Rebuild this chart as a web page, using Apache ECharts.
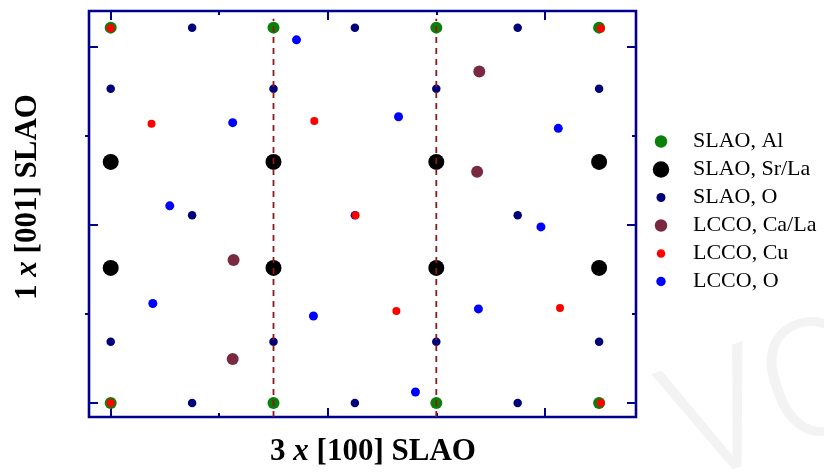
<!DOCTYPE html>
<html>
<head>
<meta charset="utf-8">
<script src="https://cdn.jsdelivr.net/npm/echarts@6/dist/echarts.min.js"></script>
<style>
  html, body { margin: 0; padding: 0; background: #fff; }
  #chart { width: 824px; height: 472px; }
</style>
</head>
<body>
<div id="chart"></div>
<script>
// Atom positions projected on the (100)/(001) plane, in Å: [x, z]
const slaoAl = [[0, 12.64], [3.75, 12.64], [7.5, 12.64], [11.25, 12.64],
                [0, 0], [3.75, 0], [7.5, 0], [11.25, 0]];
const slaoSrLa = [[0, 8.12], [3.75, 8.12], [7.5, 8.12], [11.25, 8.12],
                  [0, 4.55], [3.75, 4.55], [7.5, 4.55], [11.25, 4.55]];
const slaoO = [[1.875, 12.64], [5.625, 12.64], [9.375, 12.64],
               [0, 10.58], [3.75, 10.58], [7.5, 10.58], [11.25, 10.58],
               [1.875, 6.32], [5.625, 6.32], [9.375, 6.32],
               [0, 2.06], [3.75, 2.06], [7.5, 2.06], [11.25, 2.06],
               [1.875, 0], [5.625, 0], [9.375, 0]];
const lccoCaLa = [[8.49, 11.16], [8.44, 7.79], [2.83, 4.82], [2.81, 1.48]];
const lccoCu = [[0, 12.62], [11.29, 12.61], [0.94, 9.40], [4.69, 9.50],
                [5.64, 6.32], [6.58, 3.10], [10.35, 3.20], [0, 0], [11.29, 0]];
const lccoO = [[4.28, 12.23], [2.81, 9.44], [6.63, 9.64], [10.31, 9.25],
               [1.36, 6.64], [9.91, 5.93], [0.97, 3.35], [4.67, 2.93],
               [8.47, 3.17], [7.02, 0.37]];

// Supercell boundaries (dashed)
const boundaryX = [3.75, 7.5];
const boundaryZ = [-0.47, 12.94];

// Axis ranges and ticks (Å)
const xRange = [-0.5, 12.1];
const zRange = [-0.47, 13.2];
const xTicksMajor = [0, 5, 10];
const xTicksMinor = [2.5, 7.5];
const zTicksMajor = [0, 6, 12];
const zTicksMinor = [3, 9];

const seriesNames = ['SLAO, Al', 'SLAO, Sr/La', 'SLAO, O', 'LCCO, Ca/La', 'LCCO, Cu', 'LCCO, O'];
const seriesData = [slaoAl, slaoSrLa, slaoO, lccoCaLa, lccoCu, lccoO];
const seriesColors = ['#0a800a', '#000000', '#00007a', '#7a2a40', '#ff0000', '#0000ff'];
const symbolSizes = [12, 16, 8.5, 12, 8, 9];

const NAVY = '#00008c';
const SERIF = '"Liberation Serif", "Times New Roman", serif';

function tickAxis(position, range, ticks, len, inside) {
  return {
    type: 'value',
    position: position,
    min: range[0],
    max: range[1],
    axisLine: { show: false, onZero: false },
    axisLabel: { show: false },
    splitLine: { show: false },
    axisTick: {
      show: true, inside: inside, length: len, customValues: ticks,
      lineStyle: { color: NAVY, width: 2 }
    }
  };
}

const chart = echarts.init(document.getElementById('chart'), null, { renderer: 'canvas' });

const series = seriesNames.map((name, i) => ({
  type: 'scatter',
  name: name,
  data: seriesData[i],
  symbol: 'circle',
  symbolSize: symbolSizes[i],
  itemStyle: { color: seriesColors[i], opacity: 1 },
  z: 2 + i
}));

boundaryX.forEach((bx) => {
  series.push({
    type: 'line',
    data: boundaryZ.map((z) => [bx, z]),
    symbol: 'none',
    silent: true,
    lineStyle: { color: '#8b1a1a', width: 1.8, type: [6, 5] },
    z: 10
  });
});

// one legend block per entry so each keeps its own marker size;
// markers share a centre column and the labels share a left edge
const legendMarkerX = 661;
const legendTextX = 693;
const rowCenters = [141.5, 169.5, 197.5, 225.5, 253.5, 281.5];
const legends = seriesNames.map((name, i) => {
  const s = symbolSizes[i] + 0.5;
  return {
    data: [name],
    left: legendMarkerX - s / 2,
    top: rowCenters[i] - 11,
    padding: 0,
    icon: 'circle',
    itemWidth: s,
    itemHeight: s,
    selectedMode: false,
    textStyle: {
      fontFamily: SERIF, fontSize: 22, lineHeight: 22, color: '#000',
      padding: [0, 0, 0, legendTextX - (legendMarkerX + s / 2 + 5)]
    }
  };
});

const titleRich = {
  n: { fontFamily: SERIF, fontSize: 31, fontWeight: 'bold', fill: '#000' },
  i: { fontFamily: SERIF, fontSize: 31, fontWeight: 'bold', fontStyle: 'italic', fill: '#000' }
};

chart.setOption({
  animation: false,
  backgroundColor: '#fff',
  grid: {
    left: 89, right: 188, top: 11, bottom: 55,
    show: true, borderColor: NAVY, borderWidth: 2.6, backgroundColor: 'transparent'
  },
  xAxis: [
    tickAxis('bottom', xRange, xTicksMajor, 9, true),
    tickAxis('top', xRange, xTicksMajor, 9, true),
    tickAxis('bottom', xRange, xTicksMinor, 4, true),
    tickAxis('top', xRange, xTicksMinor, 4, true)
  ],
  yAxis: [
    tickAxis('left', zRange, zTicksMajor, 9, true),
    tickAxis('right', zRange, zTicksMajor, 9, true),
    tickAxis('left', zRange, zTicksMinor, 4, false),
    tickAxis('right', zRange, zTicksMinor, 4, true)
  ],
  legend: legends,
  graphic: [
    {
      type: 'text', x: 775, y: 410, rotation: 0.35, silent: true, z: -10,
      style: {
        text: 'VO', fill: '#f3f3f3',
        font: '300 165px Roboto, "DejaVu Sans", sans-serif',
        align: 'center', verticalAlign: 'middle'
      }
    },
    {
      type: 'text', x: 373, y: 452, silent: true,
      style: {
        text: '{n|3 }{i|x}{n| [100] SLAO}', rich: titleRich,
        align: 'center', verticalAlign: 'middle'
      }
    },
    {
      type: 'text', x: 28, y: 197, rotation: Math.PI / 2, silent: true,
      style: {
        text: '{n|1 }{i|x}{n| [001] SLAO}', rich: titleRich,
        align: 'center', verticalAlign: 'middle'
      }
    }
  ],
  series: series
});
</script>
</body>
</html>
